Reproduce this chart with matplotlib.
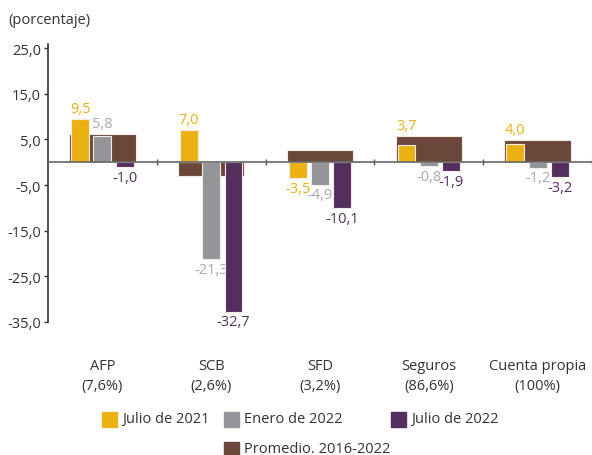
import numpy as np
import matplotlib
matplotlib.use("Agg")
import matplotlib.pyplot as plt
from matplotlib.patches import Rectangle

plt.rcParams['font.family'] = ['Open Sans', 'DejaVu Sans']

# Datos
categorias = ['AFP\n(7,6%)', 'SCB\n(2,6%)', 'SFD\n(3,2%)', 'Seguros\n(86,6%)', 'Cuenta propia\n(100%)']
julio_2021 = [9.5, 7.0, -3.5, 3.7, 4.0]
enero_2022 = [5.8, -21.3, -4.9, -0.8, -1.2]
julio_2022 = [-1.0, -32.7, -10.1, -1.9, -3.2]
promedio = [6.2, -3.0, 2.6, 5.8, 4.9]
series_nombres = ['Julio de 2021', 'Enero de 2022', 'Julio de 2022', 'Promedio. 2016-2022']
y_ticks = [25, 15, 5, -5, -15, -25, -35]

c_amarillo = '#EBB012'
c_gris = '#939598'
c_morado = '#542F5E'
c_cafe = '#6B463A'
c_txt = '#333333'
fs = 10.5

fig = plt.figure(figsize=(5.92, 4.56), dpi=100)
ax = fig.add_axes([48/592, 1 - 323/456, 544/592, 278/456])

x = np.arange(len(categorias))
ancho = 0.165
desp = 0.205

ax.bar(x, promedio, width=0.61, color=c_cafe, edgecolor='#f3ebe6', linewidth=0.8, zorder=2)
series = [(julio_2021, c_amarillo, c_amarillo, -desp),
          (enero_2022, c_gris, '#A7A8AA', 0),
          (julio_2022, c_morado, c_morado, desp)]
for vals, col, col_txt, d in series:
    ax.bar(x + d, vals, width=ancho, color=col, edgecolor='#f3ebe6', linewidth=0.8, zorder=3)
    for i, v in enumerate(vals):
        etiqueta = f'{v:.1f}'.replace('.', ',')
        if v >= 0:
            y = max(v, promedio[i])
            ax.annotate(etiqueta, (x[i] + d, y), xytext=(0, 2), textcoords='offset points',
                        ha='center', va='bottom', color=col_txt, fontsize=fs)
        else:
            ax.annotate(etiqueta, (x[i] + d, v), xytext=(0, -2), textcoords='offset points',
                        ha='center', va='top', color=col_txt, fontsize=fs)

ax.set_xlim(-0.5, len(categorias) - 0.5)
ax.set_ylim(-35, 25.9)
ax.set_yticks(y_ticks)
ax.set_yticklabels([f'{t:.1f}'.replace('.', ',') for t in y_ticks], color=c_txt, fontsize=fs)
ax.tick_params(axis='y', length=3, color=c_txt, width=1, pad=2)

# eje x en cero con marcas entre categorias
ax.spines['bottom'].set_position(('data', 0))
ax.spines['bottom'].set_color('#666666')
ax.spines['bottom'].set_linewidth(1.2)
ax.spines['bottom'].set_zorder(4)
ax.set_xticks(x + 0.5)
ax.set_xticklabels([])
ax.tick_params(axis='x', direction='inout', length=5, color='#555555', width=1)
ax.spines['top'].set_visible(False)
ax.spines['right'].set_visible(False)
ax.spines['left'].set_color(c_txt)
ax.spines['left'].set_linewidth(1.2)
ax.patch.set_visible(False)

for i, cat in enumerate(categorias):
    ax.annotate(cat, (x[i], 0), xycoords=('data', 'axes fraction'),
                xytext=(0, -26), textcoords='offset points', ha='center', va='top',
                color=c_txt, fontsize=fs, linespacing=1.4)

fig.text(8/592, 1 - 20/456, '(porcentaje)', ha='left', va='center', color=c_txt, fontsize=fs)

# leyenda
colores_leyenda = [c_amarillo, c_gris, c_morado, c_cafe]
pos_leyenda = [(102, 420), (224, 420), (391, 420), (224, 450)]
for nombre, col, (px, py) in zip(series_nombres, colores_leyenda, pos_leyenda):
    fig.patches.append(Rectangle((px/592, 1 - (py + 8)/456), 15/592, 15/456,
                                 transform=fig.transFigure, color=col, figure=fig))
    fig.text((px + 20)/592, 1 - py/456, nombre, ha='left', va='center', color=c_txt, fontsize=fs)

fig.savefig('out.png', dpi=100)
